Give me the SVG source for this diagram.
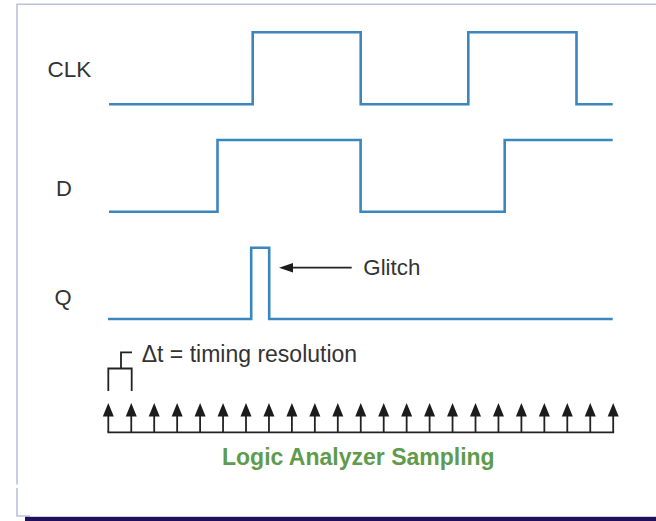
<svg xmlns="http://www.w3.org/2000/svg" xmlns:xlink="http://www.w3.org/1999/xlink" width="656" height="521" viewBox="0 0 656 521">
<style>
.wave{fill:none;stroke:#3b87bd;stroke-width:2.6;stroke-linejoin:miter;stroke-linecap:butt}
.lbl{font-family:"Liberation Sans",Arial,sans-serif;font-size:22px;fill:#333}
.blk{stroke:#222;stroke-width:1.8;fill:none}
.frame{stroke:#b9c3da;stroke-width:1.6;fill:none}
</style>
<defs>
<g id="samp">
<line x1="0" y1="432" x2="0" y2="414" stroke="#222" stroke-width="1.8"/>
<polygon points="0,403 -5.5,416.5 5.5,416.5" fill="#1c1c1c"/>
</g>
</defs>
<rect width="656" height="521" fill="#fff"/>
<g id="frame">
<polyline class="frame" points="656,4.3 17,4.3 17,484.5"/>
<polyline class="frame" points="17,488 17,516 30,516"/>
<rect x="25" y="516.8" width="631" height="4.2" fill="#20105c"/>
</g>
<g id="clk">
<text class="lbl" x="47.5" y="77" style="font-size:22.5px">CLK</text>
<polyline class="wave" points="109,104.3 252.7,104.3 252.7,32.3 360.7,32.3 360.7,104.3 468.3,104.3 468.3,32.3 576.5,32.3 576.5,104.3 612.7,104.3"/>
</g>
<g id="d">
<text class="lbl" x="56" y="196">D</text>
<polyline class="wave" points="109,211.7 217.5,211.7 217.5,140 360.6,140 360.6,211.7 504.7,211.7 504.7,140 612.7,140"/>
</g>
<g id="q">
<text class="lbl" x="54.5" y="305">Q</text>
<polyline class="wave" points="108,319 251.2,319 251.2,247.7 269.2,247.7 269.2,319 612.7,319"/>
</g>
<g id="glitch">
<line class="blk" x1="351.7" y1="267.7" x2="290" y2="267.7"/>
<polygon points="279,267.7 293,263 293,272.4" fill="#1c1c1c"/>
<text class="lbl" x="363.3" y="275" style="font-size:22.3px">Glitch</text>
</g>
<g id="resolution">
<polyline class="blk" points="108.3,391 108.3,368.5 131.7,368.5 131.7,391"/>
<polyline class="blk" points="121,368.5 121,352.3 132,352.3"/>
<text class="lbl" x="141.7" y="361.7" style="font-size:23px">Δt = timing resolution</text>
</g>
<g id="sampling">
<line class="blk" x1="107.4" y1="432.3" x2="614.2" y2="432.3"/>
<use xlink:href="#samp" x="108.3"/>
<use xlink:href="#samp" x="131.25"/>
<use xlink:href="#samp" x="154.2"/>
<use xlink:href="#samp" x="177.15"/>
<use xlink:href="#samp" x="200.1"/>
<use xlink:href="#samp" x="223.05"/>
<use xlink:href="#samp" x="246"/>
<use xlink:href="#samp" x="268.95"/>
<use xlink:href="#samp" x="291.9"/>
<use xlink:href="#samp" x="314.85"/>
<use xlink:href="#samp" x="337.8"/>
<use xlink:href="#samp" x="360.75"/>
<use xlink:href="#samp" x="383.7"/>
<use xlink:href="#samp" x="406.65"/>
<use xlink:href="#samp" x="429.6"/>
<use xlink:href="#samp" x="452.55"/>
<use xlink:href="#samp" x="475.5"/>
<use xlink:href="#samp" x="498.45"/>
<use xlink:href="#samp" x="521.4"/>
<use xlink:href="#samp" x="544.35"/>
<use xlink:href="#samp" x="567.3"/>
<use xlink:href="#samp" x="590.25"/>
<use xlink:href="#samp" x="613.2"/>
<text x="222" y="465" font-family="'Liberation Sans',Arial,sans-serif" font-size="23" font-weight="bold" fill="#5f9b4c">Logic Analyzer Sampling</text>
</g>
</svg>
